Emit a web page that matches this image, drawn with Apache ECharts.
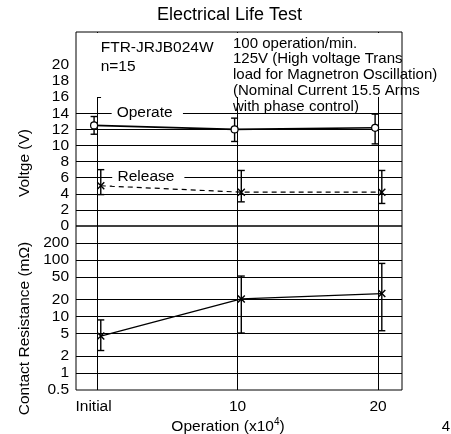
<!DOCTYPE html>
<html>
<head>
<meta charset="utf-8">
<script src="https://cdn.jsdelivr.net/npm/echarts@6/dist/echarts.min.js"></script>
<style>html,body{margin:0;padding:0;background:#fff;}#c{width:451px;height:434px;}</style>
</head>
<body>
<div id="c"></div>
<script>
// ---- data ----
const operations = [0, 10, 20];
const xTickLabels = ['Initial', '10', '20'];
const operateMean = [12.5, 12.0, 12.2];
const operateHigh = [13.6, 13.4, 13.9];
const operateLow = [11.4, 10.5, 10.2];
const releaseMean = [5.0, 4.2, 4.2];
const releaseHigh = [7.0, 6.9, 6.9];
const releaseLow = [3.9, 3.0, 2.8];
const resistMean = [4.5, 20.5, 25.5];
const resistHigh = [8.7, 52, 87];
const resistLow = [2.5, 5.1, 5.6];
const voltTickLabels = [0, 2, 4, 6, 8, 10, 12, 14, 16, 18, 20];
const voltTickMarks = [2, 4, 6, 8, 10, 12, 14, 16, 18];
const voltGridLines = [2, 4, 6, 8, 10, 12, 14];
const resistTicks = [0.5, 1, 2, 5, 10, 20, 50, 100, 200];
const resistGridLines = [1, 2, 5, 10, 20, 50, 100, 200];

const FONT = "'Liberation Sans', Arial, Helvetica, sans-serif";
const chart = echarts.init(document.getElementById('c'), null, {renderer: 'canvas'});

const X_MIN = -1.5, X_MAX = 21.7;
const V_MAX = 24.1, R_MIN = 0.5, R_MAX = 400;

function pairs(xs, ys) { return xs.map((x, i) => [x, ys[i]]); }
function bars(xs, lo, hi) { return xs.map((x, i) => [x, lo[i], hi[i]]); }

function errRender(params, api) {
  const x = api.value(0);
  const lo = api.coord([x, api.value(1)]);
  const hi = api.coord([x, api.value(2)]);
  const w = 3.5;
  const st = {stroke: '#000', lineWidth: 1.4};
  return {
    type: 'group',
    children: [
      {type: 'line', shape: {x1: hi[0], y1: hi[1], x2: lo[0], y2: lo[1]}, style: st},
      {type: 'line', shape: {x1: hi[0] - w, y1: hi[1], x2: hi[0] + w, y2: hi[1]}, style: st},
      {type: 'line', shape: {x1: lo[0] - w, y1: lo[1], x2: lo[0] + w, y2: lo[1]}, style: st}
    ]
  };
}

const gridLineStyle = {color: '#000', width: 1, type: 'solid'};
const X_SYMBOL = 'path://M0,0L10,10M10,0L0,10';

function hiddenX(gi) {
  return {type: 'value', gridIndex: gi, min: X_MIN, max: X_MAX, show: false};
}

const option = {
  animation: false,
  backgroundColor: '#fff',
  textStyle: {fontFamily: FONT},
  grid: [
    {left: 76, right: 49, top: 32, height: 194, show: true, borderColor: '#000', borderWidth: 1},
    {left: 76, right: 49, top: 226, height: 164, show: true, borderColor: '#000', borderWidth: 1},
    {left: 73, right: 52, top: 32, height: 194},
    {left: 79.7, right: 45.3, top: 32, height: 194},
    {left: 79.7, right: 45.3, top: 226, height: 164}
  ],
  xAxis: [
    {type: 'value', gridIndex: 0, min: X_MIN, max: X_MAX, axisLine: {show: false}, axisTick: {show: false}, axisLabel: {show: false}, splitLine: {show: false}},
    {type: 'value', gridIndex: 1, min: X_MIN, max: X_MAX, axisLine: {show: false}, axisTick: {show: false}, splitLine: {show: false},
      axisLabel: {
        customValues: operations, margin: 9, color: '#000', fontSize: 15.5, fontFamily: FONT,
        formatter: v => {
          const i = operations.indexOf(v);
          return i === 0 ? '{i|' + xTickLabels[i] + '}' : (i >= 0 ? xTickLabels[i] : '');
        },
        rich: {i: {padding: [0, 7, 0, 0], fontSize: 15.5, fontFamily: FONT, color: '#000'}}
      }},
    hiddenX(2), hiddenX(3), hiddenX(4)
  ],
  yAxis: [
    {type: 'value', gridIndex: 0, min: 0, max: V_MAX, axisLine: {show: false}, splitLine: {show: false},
      axisTick: {show: true, inside: true, length: 4, customValues: voltTickMarks, lineStyle: {color: '#000'}},
      axisLabel: {customValues: voltTickLabels, margin: 7, color: '#000', fontSize: 15.5, fontFamily: FONT}},
    {type: 'log', gridIndex: 1, min: R_MIN, max: R_MAX, logBase: 10, axisLine: {show: false}, splitLine: {show: false},
      axisTick: {show: false},
      axisLabel: {customValues: resistTicks, margin: 7, color: '#000', fontSize: 15.5, fontFamily: FONT}},
    {type: 'value', gridIndex: 2, min: 0, max: V_MAX, show: false},
    {type: 'value', gridIndex: 3, min: 0, max: V_MAX, show: false},
    {type: 'log', gridIndex: 4, min: R_MIN, max: R_MAX, show: false}
  ],
  series: [
    // gridlines, voltage panel
    {type: 'line', xAxisIndex: 0, yAxisIndex: 0, data: [], silent: true, z: 1,
      markLine: {silent: true, symbol: ['none', 'none'], label: {show: false}, lineStyle: gridLineStyle, animation: false,
        data: voltGridLines.map(v => ({yAxis: v})).concat(operations.map(v => ({xAxis: v})))}},
    // gridlines, resistance panel
    {type: 'line', xAxisIndex: 1, yAxisIndex: 1, data: [], silent: true, z: 1,
      markLine: {silent: true, symbol: ['none', 'none'], label: {show: false}, lineStyle: gridLineStyle, animation: false,
        data: resistGridLines.map(v => ({yAxis: v})).concat(operations.map(v => ({xAxis: v})))}},
    // Operate
    {type: 'line', xAxisIndex: 2, yAxisIndex: 2, data: pairs(operations, operateMean), z: 5,
      lineStyle: {color: '#000', width: 1.6}, symbol: 'circle', symbolSize: 7,
      itemStyle: {color: '#fff', borderColor: '#000', borderWidth: 1.2}},
    {type: 'custom', xAxisIndex: 2, yAxisIndex: 2, data: bars(operations, operateLow, operateHigh), renderItem: errRender, z: 4},
    // Release
    {type: 'line', xAxisIndex: 3, yAxisIndex: 3, data: pairs(operations, releaseMean), z: 5,
      lineStyle: {color: '#000', width: 1.2, type: [5, 4]}, symbol: X_SYMBOL, symbolSize: 7,
      itemStyle: {color: 'rgba(0,0,0,0)', borderColor: '#000', borderWidth: 1.4}},
    {type: 'custom', xAxisIndex: 3, yAxisIndex: 3, data: bars(operations, releaseLow, releaseHigh), renderItem: errRender, z: 4},
    // Contact resistance
    {type: 'line', xAxisIndex: 4, yAxisIndex: 4, data: pairs(operations, resistMean), z: 5,
      lineStyle: {color: '#000', width: 1.3}, symbol: X_SYMBOL, symbolSize: 7,
      itemStyle: {color: 'rgba(0,0,0,0)', borderColor: '#000', borderWidth: 1.4}},
    {type: 'custom', xAxisIndex: 4, yAxisIndex: 4, data: bars(operations, resistLow, resistHigh), renderItem: errRender, z: 4}
  ],
  graphic: [
    {type: 'rect', z: 100, shape: {x: 77, y: 33, width: 324, height: 64}, style: {fill: '#fff'}},
    {type: 'text', z: 101, x: 229.5, y: 15.5, style: {text: 'Electrical Life Test', font: '18px ' + FONT, fill: '#000', align: 'center', verticalAlign: 'middle'}},
    {type: 'text', z: 101, x: 100.7, y: 37.5, style: {text: 'FTR-JRJB024W\nn=15', font: '15.5px ' + FONT, lineHeight: 19.5, fill: '#000', align: 'left', verticalAlign: 'top'}},
    {type: 'text', z: 101, x: 233, y: 35.5, style: {text: '100 operation/min.\n125V (High voltage Trans\nload for Magnetron Oscillation)\n(Nominal Current 15.5 Arms\nwith phase control)', font: '15px ' + FONT, lineHeight: 15.8, fill: '#000', align: 'left', verticalAlign: 'top'}},
    {type: 'text', z: 101, x: 147.3, y: 112.5, style: {text: 'Operate', font: '15.5px ' + FONT, fill: '#000', align: 'center', verticalAlign: 'middle', backgroundColor: '#fff', padding: [1, 10.3, 1, 5]}},
    {type: 'text', z: 101, x: 148.3, y: 177, style: {text: 'Release', font: '15.5px ' + FONT, fill: '#000', align: 'center', verticalAlign: 'middle', backgroundColor: '#fff', padding: [1, 10, 1, 5.3]}},
    {type: 'text', z: 101, x: 25, y: 163, rotation: Math.PI / 2, style: {text: 'Voltge (V)', font: '15.5px ' + FONT, fill: '#000', align: 'center', verticalAlign: 'middle'}},
    {type: 'text', z: 101, x: 25, y: 328.5, rotation: Math.PI / 2, style: {text: 'Contact Resistance (mΩ)', font: '15.5px ' + FONT, fill: '#000', align: 'center', verticalAlign: 'middle'}},
    {type: 'text', z: 101, x: 228, y: 426.5, style: {text: '{a|Operation (x10}{s|4}{a|)}', align: 'center', verticalAlign: 'middle', fill: '#000',
      rich: {a: {fontSize: 15.5, fontFamily: FONT, fill: '#000', color: '#000'}, s: {fontSize: 10, fontFamily: FONT, color: '#000', verticalAlign: 'top', padding: [0, 0, 9, 0]}}}},
    {type: 'text', z: 101, x: 446, y: 427, style: {text: '4', font: '15px ' + FONT, fill: '#000', align: 'center', verticalAlign: 'middle'}}
  ]
};
chart.setOption(option);
</script>
</body>
</html>
